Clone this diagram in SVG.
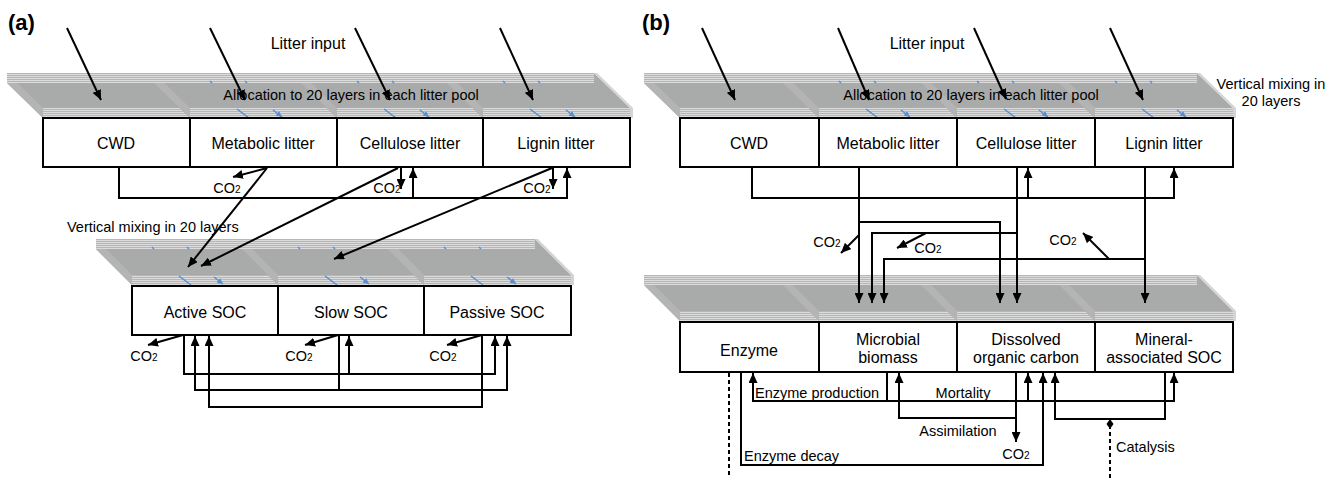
<svg xmlns="http://www.w3.org/2000/svg" width="1338" height="478" viewBox="0 0 1338 478">
<defs>
<style>
.box{fill:#fff;stroke:#000;stroke-width:2}
.t{font-family:"Liberation Sans",Arial,sans-serif;font-size:16px;fill:#000;text-anchor:middle}
.s{font-family:"Liberation Sans",Arial,sans-serif;font-size:14.5px;fill:#000}
.m{text-anchor:middle}
.h{font-family:"Liberation Sans",Arial,sans-serif;font-size:22px;font-weight:bold;fill:#000}
.c{fill:none;stroke:#000;stroke-width:2;marker-end:url(#ah)}
.n{fill:none;stroke:#000;stroke-width:2}
.d{fill:none;stroke:#000;stroke-width:2;stroke-dasharray:4 3}
.top{fill:#a9abaa}
.lf{fill:#b3b4b3}
.st{fill:url(#hs)}
.re{fill:#d4d4d4}
.bl{fill:none;stroke:#5b8fc9;stroke-width:1.5}
.ba{fill:none;stroke:#5b8fc9;stroke-width:1.5;marker-end:url(#bh)}
</style>
<pattern id="hs" patternUnits="userSpaceOnUse" width="8" height="2"><rect width="8" height="2" fill="#b5b6b5"/><rect width="8" height="1" fill="#dcdcdc"/></pattern>
<marker id="ah" markerUnits="userSpaceOnUse" markerWidth="10" markerHeight="9" refX="10" refY="4.5" orient="auto" viewBox="0 0 10 9"><path d="M0,0 L10,4.5 L0,9 z" fill="#000"/></marker>
<marker id="bh" markerUnits="userSpaceOnUse" markerWidth="6" markerHeight="6" refX="6" refY="3" orient="auto" viewBox="0 0 6 6"><path d="M0,0 L6,3 L0,6 z" fill="#5b8fc9"/></marker>
</defs>

<text class="h" x="8" y="30">(a)</text>
<text class="h" x="642" y="30">(b)</text>

<g id="layers-a-litter">
<polygon class="top" points="7,73 154,73 190,108 190,118 43,118 7,83"/>
<polygon class="lf" points="7,73 43,108 43,118 7,83"/>
<rect class="st" x="7" y="73" width="147" height="10"/>
<rect class="st" x="43" y="108" width="147" height="10"/>
<polygon class="top" points="154,73 301,73 337,108 337,118 190,118 154,83"/>
<polygon class="lf" points="154,73 190,108 190,118 154,83"/>
<rect class="st" x="154" y="73" width="147" height="10"/>
<rect class="st" x="190" y="108" width="147" height="10"/>
<polygon class="top" points="301,73 447,73 483,108 483,118 337,118 301,83"/>
<polygon class="lf" points="301,73 337,108 337,118 301,83"/>
<rect class="st" x="301" y="73" width="146" height="10"/>
<rect class="st" x="337" y="108" width="146" height="10"/>
<polygon class="top" points="447,73 594,73 630,108 630,118 483,118 447,83"/>
<polygon class="lf" points="447,73 483,108 483,118 447,83"/>
<rect class="st" x="447" y="73" width="147" height="10"/>
<rect class="st" x="483" y="108" width="147" height="10"/>
<polygon class="re" points="594,73 597,73 633,108 633,118 630,118 630,108"/>
<path class="bl" d="M237,109 L249,118 M210,81 L212,83 M245,81 L247,83 M384,109 L396,118 M357,81 L359,83 M392,81 L394,83 M530,109 L542,118 M503,81 L505,83 M538,81 L540,83"/>
<path class="ba" d="M273,110 L282,117"/>
<path class="ba" d="M420,110 L429,117"/>
<path class="ba" d="M566,110 L575,117"/>
</g>

<g id="layers-a-soc">
<polygon class="top" points="96,239 242,239 278,275 278,285 132,285 96,249"/>
<polygon class="lf" points="96,239 132,275 132,285 96,249"/>
<rect class="st" x="96" y="239" width="146" height="10"/>
<rect class="st" x="132" y="275" width="146" height="10"/>
<polygon class="top" points="242,239 388,239 424,275 424,285 278,285 242,249"/>
<polygon class="lf" points="242,239 278,275 278,285 242,249"/>
<rect class="st" x="242" y="239" width="146" height="10"/>
<rect class="st" x="278" y="275" width="146" height="10"/>
<polygon class="top" points="388,239 535,239 571,275 571,285 424,285 388,249"/>
<polygon class="lf" points="388,239 424,275 424,285 388,249"/>
<rect class="st" x="388" y="239" width="147" height="10"/>
<rect class="st" x="424" y="275" width="147" height="10"/>
<polygon class="re" points="535,239 538,239 574,275 574,285 571,285 571,275"/>
<path class="bl" d="M179,276 L191,285 M152,247 L154,249 M187,247 L189,249 M325,276 L337,285 M298,247 L300,249 M333,247 L335,249 M471,276 L483,285 M444,247 L446,249 M479,247 L481,249"/>
<path class="ba" d="M214,277 L223,284"/>
<path class="ba" d="M360,277 L369,284"/>
<path class="ba" d="M507,277 L516,284"/>
</g>

<g id="layers-b-litter">
<polygon class="top" points="644,73 783,73 819,108 819,118 680,118 644,83"/>
<polygon class="lf" points="644,73 680,108 680,118 644,83"/>
<rect class="st" x="644" y="73" width="139" height="10"/>
<rect class="st" x="680" y="108" width="139" height="10"/>
<polygon class="top" points="783,73 921,73 957,108 957,118 819,118 783,83"/>
<polygon class="lf" points="783,73 819,108 819,118 783,83"/>
<rect class="st" x="783" y="73" width="138" height="10"/>
<rect class="st" x="819" y="108" width="138" height="10"/>
<polygon class="top" points="921,73 1059,73 1095,108 1095,118 957,118 921,83"/>
<polygon class="lf" points="921,73 957,108 957,118 921,83"/>
<rect class="st" x="921" y="73" width="138" height="10"/>
<rect class="st" x="957" y="108" width="138" height="10"/>
<polygon class="top" points="1059,73 1197,73 1233,108 1233,118 1095,118 1059,83"/>
<polygon class="lf" points="1059,73 1095,108 1095,118 1059,83"/>
<rect class="st" x="1059" y="73" width="138" height="10"/>
<rect class="st" x="1095" y="108" width="138" height="10"/>
<polygon class="re" points="1197,73 1200,73 1236,108 1236,118 1233,118 1233,108"/>
<path class="bl" d="M866,109 L878,118 M839,81 L841,83 M874,81 L876,83 M1004,109 L1016,118 M977,81 L979,83 M1012,81 L1014,83 M1142,109 L1154,118 M1115,81 L1117,83 M1150,81 L1152,83"/>
<path class="ba" d="M901,110 L910,117"/>
<path class="ba" d="M1039,110 L1048,117"/>
<path class="ba" d="M1177,110 L1186,117"/>
</g>

<g id="layers-b-soil">
<polygon class="top" points="644,275 783,275 819,311 819,321 680,321 644,285"/>
<polygon class="lf" points="644,275 680,311 680,321 644,285"/>
<rect class="st" x="644" y="275" width="139" height="10"/>
<rect class="st" x="680" y="311" width="139" height="10"/>
<polygon class="top" points="783,275 921,275 957,311 957,321 819,321 783,285"/>
<polygon class="lf" points="783,275 819,311 819,321 783,285"/>
<rect class="st" x="783" y="275" width="138" height="10"/>
<rect class="st" x="819" y="311" width="138" height="10"/>
<polygon class="top" points="921,275 1059,275 1095,311 1095,321 957,321 921,285"/>
<polygon class="lf" points="921,275 957,311 957,321 921,285"/>
<rect class="st" x="921" y="275" width="138" height="10"/>
<rect class="st" x="957" y="311" width="138" height="10"/>
<polygon class="top" points="1059,275 1197,275 1233,311 1233,321 1095,321 1059,285"/>
<polygon class="lf" points="1059,275 1095,311 1095,321 1059,285"/>
<rect class="st" x="1059" y="275" width="138" height="10"/>
<rect class="st" x="1095" y="311" width="138" height="10"/>
<polygon class="re" points="1197,275 1200,275 1236,311 1236,321 1233,321 1233,311"/>
</g>

<g id="a-cwd"><rect class="box" x="43" y="118" width="147" height="49"/><text class="t" x="116" y="149">CWD</text></g>
<g id="a-metabolic"><rect class="box" x="190" y="118" width="147" height="49"/><text class="t" x="263" y="149">Metabolic litter</text></g>
<g id="a-cellulose"><rect class="box" x="337" y="118" width="146" height="49"/><text class="t" x="410" y="149">Cellulose litter</text></g>
<g id="a-lignin"><rect class="box" x="483" y="118" width="147" height="49"/><text class="t" x="556" y="149">Lignin litter</text></g>
<g id="a-active"><rect class="box" x="132" y="286" width="146" height="49"/><text class="t" x="205" y="318">Active SOC</text></g>
<g id="a-slow"><rect class="box" x="278" y="286" width="146" height="49"/><text class="t" x="351" y="318">Slow SOC</text></g>
<g id="a-passive"><rect class="box" x="424" y="286" width="147" height="49"/><text class="t" x="497" y="318">Passive SOC</text></g>

<g id="b-cwd"><rect class="box" x="680" y="118" width="139" height="49"/><text class="t" x="749" y="149">CWD</text></g>
<g id="b-metabolic"><rect class="box" x="819" y="118" width="138" height="49"/><text class="t" x="888" y="149">Metabolic litter</text></g>
<g id="b-cellulose"><rect class="box" x="957" y="118" width="138" height="49"/><text class="t" x="1026" y="149">Cellulose litter</text></g>
<g id="b-lignin"><rect class="box" x="1095" y="118" width="138" height="49"/><text class="t" x="1164" y="149">Lignin litter</text></g>
<g id="b-enzyme"><rect class="box" x="680" y="322" width="139" height="50"/><text class="t" x="749" y="356">Enzyme</text></g>
<g id="b-microbial"><rect class="box" x="819" y="322" width="138" height="50"/><text class="t" x="888" y="345">Microbial</text><text class="t" x="888" y="363">biomass</text></g>
<g id="b-doc"><rect class="box" x="957" y="322" width="138" height="50"/><text class="t" x="1026" y="345">Dissolved</text><text class="t" x="1026" y="363">organic carbon</text></g>
<g id="b-mineral"><rect class="box" x="1095" y="322" width="138" height="50"/><text class="t" x="1164" y="345">Mineral-</text><text class="t" x="1164" y="363">associated SOC</text></g>

<g id="connectors">
<path class="c" d="M67,28 L101,100"/>
<path class="c" d="M210,28 L245,100"/>
<path class="c" d="M355,28 L390,100"/>
<path class="c" d="M500,28 L533,100"/>
<path class="c" d="M119,167 V198 H567 V168"/>
<path class="c" d="M413,198 V168"/>
<path class="c" d="M267,168 L233,177"/>
<path class="c" d="M401,168 V189"/>
<path class="c" d="M553,168 V189"/>
<path class="c" d="M267,168 L188,267"/>
<path class="c" d="M398,168 L201,266"/>
<path class="c" d="M552,168 L334,259"/>
<path class="c" d="M183,335 L148,345"/>
<path class="c" d="M338,335 L305,345"/>
<path class="c" d="M482,335 L447,345"/>
<path class="c" d="M184,335 V374 H495 V336"/>
<path class="c" d="M349,374 V336"/>
<path class="c" d="M339,335 V390 H195 V336"/>
<path class="c" d="M339,390 H507 V336"/>
<path class="c" d="M482,335 V407 H209 V336"/>

<path class="c" d="M702,28 L735,100"/>
<path class="c" d="M838,28 L869,100"/>
<path class="c" d="M974,28 L1006,99"/>
<path class="c" d="M1110,28 L1143,100"/>
<path class="c" d="M752,167 V198 H1174 V168"/>
<path class="c" d="M1028,198 V168"/>
<path class="c" d="M859,167 V303"/>
<path class="c" d="M859,222 H1000 V303"/>
<path class="c" d="M859,235 L841,253"/>
<path class="c" d="M1017,167 V303"/>
<path class="c" d="M1017,233 H872 V303"/>
<path class="c" d="M926,233 L897,248"/>
<path class="c" d="M1145,167 V303"/>
<path class="c" d="M1145,259 H884 V303"/>
<path class="c" d="M1109,259 L1083,233"/>
<path class="d" d="M729,373 V478"/>
<path class="c" d="M741,372 V465 H1043 V373"/>
<path class="c" d="M887,372 V401 H753 V373"/>
<path class="c" d="M887,401 H1174 V373"/>
<path class="c" d="M1028,401 V373"/>
<path class="c" d="M1016,372 V418 H899 V373"/>
<path class="c" d="M1016,418 V442"/>
<path class="c" d="M1165,372 V419 H1055 V373"/>
<path class="d" d="M1110,478 V428"/>
<polygon points="1110,419 1113.5,424 1110,429 1106.5,424" fill="#000"/>
</g>

<g id="labels">
<text class="t" x="308" y="49">Litter input</text>
<text class="t" x="927" y="49">Litter input</text>
<text class="s m" x="351" y="100">Allocation to 20 layers in each litter pool</text>
<text class="s m" x="971" y="100">Allocation to 20 layers in each litter pool</text>
<text class="s" x="67" y="232">Vertical mixing in 20 layers</text>
<text class="s m" x="1271" y="89">Vertical mixing in</text>
<text class="s m" x="1271" y="106">20 layers</text>
<text class="s m" x="227" y="193" font-size="14">CO<tspan font-size="10">2</tspan></text>
<text class="s m" x="387" y="193" font-size="14">CO<tspan font-size="10">2</tspan></text>
<text class="s m" x="537" y="193" font-size="14">CO<tspan font-size="10">2</tspan></text>
<text class="s m" x="144" y="361" font-size="14">CO<tspan font-size="10">2</tspan></text>
<text class="s m" x="299" y="361" font-size="14">CO<tspan font-size="10">2</tspan></text>
<text class="s m" x="443" y="361" font-size="14">CO<tspan font-size="10">2</tspan></text>
<text class="s m" x="827" y="247" font-size="14">CO<tspan font-size="10">2</tspan></text>
<text class="s m" x="928" y="253" font-size="14">CO<tspan font-size="10">2</tspan></text>
<text class="s m" x="1063" y="245" font-size="14">CO<tspan font-size="10">2</tspan></text>
<text class="s m" x="1016" y="459" font-size="14">CO<tspan font-size="10">2</tspan></text>
<text class="s" x="755" y="398">Enzyme production</text>
<text class="s m" x="963" y="398">Mortality</text>
<text class="s m" x="958" y="436">Assimilation</text>
<text class="s" x="744" y="461">Enzyme decay</text>
<text class="s" x="1116" y="452">Catalysis</text>
</g>
</svg>
